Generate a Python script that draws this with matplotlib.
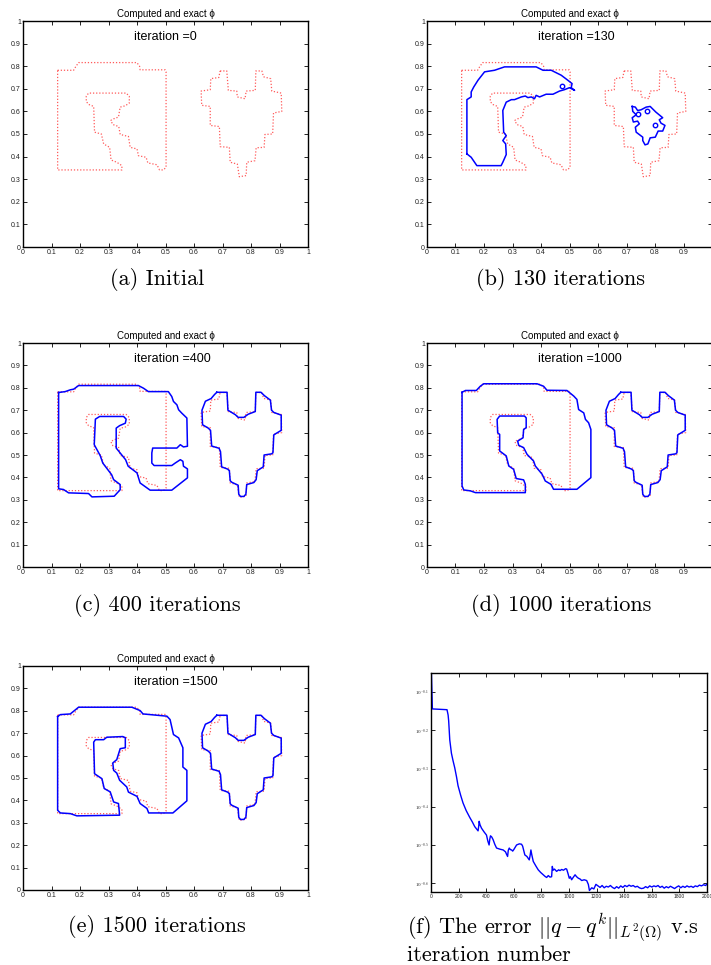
import numpy as np
import matplotlib
matplotlib.use('Agg')
import matplotlib.pyplot as plt
from matplotlib.ticker import FixedLocator, FixedFormatter, NullLocator

plt.rcParams['font.family'] = ['Liberation Sans', 'DejaVu Sans']
plt.rcParams['mathtext.fontset'] = 'cm'
plt.rcParams['axes.unicode_minus'] = False

# ---------------- data ----------------
# exact shape (red dotted): body and heart
exact_body_x = [0.1215, 0.1776, 0.1846, 0.195, 0.3995, 0.409, 0.411, 0.499, 0.502, 0.502, 0.493, 0.479,
                0.470, 0.438, 0.432, 0.405, 0.400, 0.376, 0.370, 0.341, 0.336, 0.315, 0.308, 0.318,
                0.335, 0.341, 0.359, 0.373, 0.373, 0.362, 0.230, 0.222, 0.222, 0.230, 0.248, 0.251,
                0.275, 0.283, 0.304, 0.309, 0.329, 0.347, 0.347, 0.1215]
exact_body_y = [0.782, 0.782, 0.797, 0.816, 0.816, 0.800, 0.784, 0.784, 0.775, 0.353, 0.341, 0.341,
                0.364, 0.372, 0.397, 0.404, 0.434, 0.441, 0.489, 0.498, 0.533, 0.542, 0.560, 0.567,
                0.575, 0.619, 0.625, 0.637, 0.667, 0.681, 0.681, 0.667, 0.644, 0.631, 0.622, 0.508,
                0.500, 0.456, 0.441, 0.385, 0.375, 0.360, 0.341, 0.341]
exact_heart_x = [0.6916, 0.715, 0.7205, 0.750, 0.752, 0.779, 0.783, 0.815, 0.817, 0.838, 0.844, 0.869,
                 0.873, 0.906, 0.908, 0.879, 0.876, 0.849, 0.846, 0.818, 0.814, 0.785, 0.783, 0.759,
                 0.752, 0.727, 0.724, 0.692, 0.689, 0.657, 0.657, 0.627, 0.625, 0.657, 0.659, 0.687]
exact_heart_y = [0.779, 0.779, 0.693, 0.690, 0.664, 0.656, 0.690, 0.693, 0.779, 0.779, 0.753, 0.745,
                 0.690, 0.681, 0.600, 0.593, 0.500, 0.498, 0.441, 0.439, 0.382, 0.375, 0.316, 0.311,
                 0.367, 0.375, 0.441, 0.444, 0.533, 0.538, 0.622, 0.627, 0.690, 0.696, 0.745, 0.750]

# computed shape, 130 iterations
b_body_x = [0.140, 0.155, 0.175, 0.260, 0.266, 0.278, 0.276, 0.266, 0.278, 0.269, 0.266, 0.278, 0.296,
            0.307, 0.331, 0.345, 0.354, 0.366, 0.377, 0.383, 0.395, 0.418, 0.442, 0.465, 0.482, 0.500,
            0.518, 0.506, 0.509, 0.494, 0.471, 0.436, 0.407, 0.383, 0.272, 0.237, 0.202, 0.179, 0.164,
            0.155, 0.155, 0.140]
b_body_y = [0.412, 0.397, 0.360, 0.360, 0.375, 0.409, 0.456, 0.471, 0.493, 0.508, 0.604, 0.641, 0.652,
            0.652, 0.664, 0.668, 0.661, 0.664, 0.656, 0.671, 0.664, 0.676, 0.676, 0.690, 0.696, 0.705,
            0.693, 0.705, 0.723, 0.738, 0.760, 0.782, 0.782, 0.797, 0.797, 0.782, 0.775, 0.738, 0.708,
            0.686, 0.664, 0.652]
b_blob_x = [0.720, 0.731, 0.739, 0.751, 0.769, 0.783, 0.803, 0.827, 0.815, 0.821, 0.835, 0.827, 0.811,
            0.801, 0.783, 0.775, 0.765, 0.757, 0.757, 0.734, 0.731, 0.745, 0.739, 0.724, 0.720, 0.734,
            0.722]
b_blob_y = [0.622, 0.619, 0.604, 0.607, 0.619, 0.622, 0.597, 0.572, 0.563, 0.548, 0.538, 0.513, 0.513,
            0.486, 0.483, 0.456, 0.452, 0.471, 0.486, 0.508, 0.530, 0.545, 0.557, 0.553, 0.572, 0.585,
            0.600]
b_loops_x = [0.473, 0.739, 0.771, 0.801]
b_loops_y = [0.711, 0.587, 0.601, 0.538]

# computed shape, 400 iterations
c_body_x = [0.125, 0.148, 0.166, 0.178, 0.195, 0.405, 0.423, 0.440, 0.510, 0.522, 0.528, 0.540, 0.546,
            0.557, 0.575, 0.577, 0.563, 0.552, 0.540, 0.455, 0.452, 0.452, 0.460, 0.522, 0.534, 0.552,
            0.561, 0.563, 0.577, 0.577, 0.522, 0.446, 0.411, 0.400, 0.369, 0.360, 0.327, 0.327, 0.339,
            0.359, 0.362, 0.353, 0.269, 0.254, 0.250, 0.271, 0.280, 0.311, 0.318, 0.341, 0.341, 0.320,
            0.242, 0.230, 0.160, 0.142, 0.125]
c_body_y = [0.779, 0.783, 0.791, 0.794, 0.810, 0.810, 0.798, 0.783, 0.783, 0.761, 0.739, 0.724, 0.702,
            0.687, 0.665, 0.539, 0.536, 0.546, 0.531, 0.531, 0.509, 0.464, 0.453, 0.453, 0.464, 0.479,
            0.472, 0.450, 0.438, 0.398, 0.343, 0.343, 0.375, 0.420, 0.450, 0.479, 0.531, 0.620, 0.631,
            0.642, 0.660, 0.672, 0.672, 0.660, 0.546, 0.497, 0.464, 0.412, 0.390, 0.368, 0.345, 0.316,
            0.313, 0.328, 0.331, 0.346, 0.349]

# computed shape, 1000 iterations
d_body_x = [0.123, 0.135, 0.173, 0.187, 0.199, 0.386, 0.409, 0.421, 0.491, 0.515, 0.526, 0.532, 0.550,
            0.556, 0.567, 0.575, 0.575, 0.526, 0.444, 0.435, 0.415, 0.404, 0.380, 0.374, 0.351, 0.339,
            0.322, 0.318, 0.337, 0.339, 0.348, 0.348, 0.342, 0.255, 0.246, 0.248, 0.255, 0.255, 0.278,
            0.287, 0.304, 0.313, 0.339, 0.345, 0.345, 0.170, 0.152, 0.129, 0.123]
d_body_y = [0.780, 0.788, 0.788, 0.807, 0.818, 0.818, 0.807, 0.789, 0.788, 0.763, 0.748, 0.703, 0.688,
            0.659, 0.644, 0.614, 0.399, 0.347, 0.347, 0.369, 0.384, 0.414, 0.451, 0.473, 0.503, 0.533,
            0.543, 0.562, 0.577, 0.614, 0.622, 0.666, 0.674, 0.674, 0.659, 0.599, 0.592, 0.518, 0.496,
            0.451, 0.436, 0.395, 0.389, 0.369, 0.332, 0.332, 0.340, 0.344, 0.362]

# computed shape, 1500 iterations
e_body_x = [0.1215, 0.131, 0.166, 0.195, 0.382, 0.411, 0.421, 0.505, 0.516, 0.528, 0.546, 0.561, 0.561,
            0.575, 0.575, 0.526, 0.441, 0.435, 0.411, 0.400, 0.370, 0.364, 0.339, 0.329, 0.318, 0.315,
            0.329, 0.341, 0.359, 0.359, 0.350, 0.294, 0.283, 0.254, 0.248, 0.251, 0.277, 0.285, 0.306,
            0.318, 0.335, 0.339, 0.189, 0.166, 0.131, 0.1215]
e_body_y = [0.774, 0.783, 0.786, 0.816, 0.816, 0.801, 0.786, 0.776, 0.761, 0.694, 0.679, 0.635, 0.549,
            0.534, 0.398, 0.344, 0.344, 0.364, 0.386, 0.418, 0.437, 0.460, 0.490, 0.522, 0.534, 0.567,
            0.582, 0.631, 0.635, 0.680, 0.685, 0.682, 0.671, 0.671, 0.660, 0.519, 0.497, 0.453, 0.438,
            0.393, 0.386, 0.334, 0.331, 0.341, 0.344, 0.356]

# converged heart (computed)
fit_heart_x = [0.680, 0.716, 0.719, 0.745, 0.755, 0.775, 0.790, 0.815, 0.817, 0.835, 0.847, 0.868, 0.872,
               0.880, 0.906, 0.906, 0.880, 0.877, 0.872, 0.846, 0.843, 0.822, 0.818, 0.810, 0.785, 0.782,
               0.775, 0.763, 0.757, 0.755, 0.733, 0.727, 0.724, 0.718, 0.697, 0.693, 0.688, 0.662, 0.658,
               0.650, 0.630, 0.628, 0.640, 0.660, 0.672]
fit_heart_y = [0.780, 0.780, 0.700, 0.680, 0.668, 0.668, 0.682, 0.694, 0.780, 0.780, 0.765, 0.745, 0.700,
               0.690, 0.678, 0.610, 0.590, 0.510, 0.505, 0.500, 0.447, 0.430, 0.390, 0.377, 0.368, 0.325,
               0.315, 0.315, 0.325, 0.365, 0.378, 0.385, 0.430, 0.437, 0.447, 0.515, 0.530, 0.540, 0.610,
               0.620, 0.635, 0.700, 0.740, 0.752, 0.770]

# error history (log10 of ||q - q^k||)
err_iter = [0, 3, 10, 60, 116, 124, 128, 136, 148, 160, 172, 185, 196, 215, 232, 255, 281, 300, 317, 330,
            341, 346, 349, 355, 366, 385, 402, 412, 421, 426, 431, 440, 450, 462, 475, 500, 523, 540, 547,
            555, 560, 567, 575, 584, 592, 600, 610, 620, 640, 656, 664, 668, 674, 680, 695, 712, 718, 724,
            730, 741, 760, 777, 795, 814, 826, 838, 850, 862, 874, 879, 885, 895, 910, 925, 935, 947, 960,
            975, 983, 993, 1002, 1010, 1019, 1030, 1044, 1055, 1068, 1080, 1092, 1110, 1128, 1140, 1148,
            1165, 1180, 1195, 1210, 1225, 1240, 1255, 1270, 1285, 1300, 1315, 1330, 1345, 1360, 1375, 1390,
            1405, 1420, 1435, 1450, 1465, 1480, 1495, 1510, 1525, 1540, 1555, 1570, 1585, 1600, 1615, 1630,
            1645, 1660, 1675, 1690, 1705, 1720, 1735, 1750, 1765, 1780, 1795, 1810, 1825, 1840, 1855, 1870,
            1885, 1900, 1915, 1930, 1945, 1960, 1975, 1990, 2000]
err_log = [0.0, -0.05, -0.144, -0.145, -0.146, -0.16, -0.175, -0.225, -0.26, -0.28, -0.298, -0.322, -0.345,
           -0.37, -0.39, -0.41, -0.428, -0.44, -0.452, -0.458, -0.463, -0.45, -0.438, -0.447, -0.456, -0.466,
           -0.474, -0.49, -0.50, -0.485, -0.476, -0.479, -0.486, -0.498, -0.508, -0.511, -0.513, -0.518,
           -0.524, -0.530, -0.514, -0.508, -0.512, -0.513, -0.516, -0.512, -0.506, -0.50, -0.497, -0.498,
           -0.503, -0.509, -0.518, -0.526, -0.53, -0.539, -0.528, -0.513, -0.525, -0.543, -0.555, -0.565,
           -0.572, -0.578, -0.582, -0.585, -0.580, -0.584, -0.583, -0.556, -0.566, -0.563, -0.569, -0.565,
           -0.567, -0.564, -0.566, -0.562, -0.563, -0.575, -0.587, -0.583, -0.591, -0.585, -0.578, -0.583,
           -0.587, -0.589, -0.593, -0.591, -0.593, -0.603, -0.619,
           -0.612, -0.615, -0.603, -0.607, -0.611, -0.606, -0.612, -0.608, -0.610, -0.606, -0.611, -0.614,
           -0.609, -0.613, -0.607, -0.611, -0.606, -0.609, -0.605, -0.608, -0.606, -0.610, -0.608, -0.612,
           -0.614, -0.613, -0.609, -0.612, -0.607, -0.610, -0.607, -0.609, -0.606, -0.611, -0.608, -0.613,
           -0.609, -0.612, -0.608, -0.611, -0.614, -0.610, -0.607, -0.612, -0.608, -0.611, -0.607, -0.610,
           -0.608, -0.611, -0.607, -0.609, -0.605, -0.607, -0.604, -0.606, -0.602]

unit_ticks = [0, 0.1, 0.2, 0.3, 0.4, 0.5, 0.6, 0.7, 0.8, 0.9, 1.0]
unit_labels = ['0', '0.1', '0.2', '0.3', '0.4', '0.5', '0.6', '0.7', '0.8', '0.9', '1']
err_xticks = [0, 200, 400, 600, 800, 1000, 1200, 1400, 1600, 1800, 2000]
err_ylog_ticks = [-0.6, -0.5, -0.4, -0.3, -0.2, -0.1]
err_ylabels = [r'$10^{-0.6}$', r'$10^{-0.5}$', r'$10^{-0.4}$', r'$10^{-0.3}$', r'$10^{-0.2}$', r'$10^{-0.1}$']

captions = ['(a) Initial', '(b) 130 iterations', '(c) 400 iterations', '(d) 1000 iterations',
            '(e) 1500 iterations']
iteration_labels = ['iteration =0', 'iteration =130', 'iteration =400', 'iteration =1000', 'iteration =1500']

# ---------------- figure ----------------
W, H = 711, 965
fig = plt.figure(figsize=(W / 100, H / 100), dpi=100)


def add_ax(l, t, r, b):
    return fig.add_axes([l / W, 1 - b / H, (r - l) / W, (b - t) / H])


BLUE = '#0000ff'
RED = '#ff5a5a'
TICKC = '#222222'


def style(ax):
    for s in ax.spines.values():
        s.set_linewidth(1.0)
        s.set_color('black')
    ax.tick_params(direction='in', length=3, width=0.6, top=True, right=True,
                   labelsize=5, pad=1.5, colors='black', labelcolor=TICKC)


def closed(x, y):
    return list(x) + [x[0]], list(y) + [y[0]]


def shape_panel(box, idx, computed, clip_right=False):
    ax = add_ax(*box)
    style(ax)
    ax.set_xlim(0, 1)
    ax.set_ylim(0, 1)
    xl = list(unit_labels)
    if clip_right:
        xl[-1] = ''
    ax.xaxis.set_major_locator(FixedLocator(unit_ticks))
    ax.xaxis.set_major_formatter(FixedFormatter(xl))
    ax.yaxis.set_major_locator(FixedLocator(unit_ticks))
    ax.yaxis.set_major_formatter(FixedFormatter(unit_labels))
    for (x, y) in [(exact_body_x, exact_body_y), (exact_heart_x, exact_heart_y)]:
        cx, cy = closed(x, y)
        ax.plot(cx, cy, linestyle=(0, (1, 1.5)), color=RED, lw=0.9, zorder=2)
    for (x, y) in computed:
        cx, cy = closed(x, y)
        ax.plot(cx, cy, color=BLUE, lw=1.1, zorder=3)
    ax.set_title('Computed and exact ϕ', fontsize=7, pad=3)
    ax.text(0.39, 0.93, iteration_labels[idx], fontsize=9, ha='left', va='center')
    return ax


row_boxes = [(23, 21, 308, 247), (427, 21, 712, 247),
             (23, 343, 308, 567), (427, 343, 712, 567),
             (23, 666, 308, 890)]

shape_panel(row_boxes[0], 0, [])
axb = shape_panel(row_boxes[1], 1, [(b_body_x, b_body_y), (b_blob_x, b_blob_y)], clip_right=True)
axb.plot(b_loops_x, b_loops_y, linestyle='none', marker='o', markersize=3.2,
         markerfacecolor='none', markeredgecolor=BLUE, markeredgewidth=1.0, zorder=3)
shape_panel(row_boxes[2], 2, [(c_body_x, c_body_y), (fit_heart_x, fit_heart_y)])
shape_panel(row_boxes[3], 3, [(d_body_x, d_body_y), (fit_heart_x, fit_heart_y)], clip_right=True)
shape_panel(row_boxes[4], 4, [(e_body_x, e_body_y), (fit_heart_x, fit_heart_y)])

# error panel
axf = add_ax(431, 673, 707, 892)
style(axf)
axf.tick_params(labelsize=3.6)
axf.set_yscale('log')
axf.plot(err_iter, 10 ** np.array(err_log), color=BLUE, lw=1.0)
axf.set_xlim(0, 2000)
axf.set_ylim(10 ** -0.623, 10 ** -0.05)
axf.xaxis.set_major_locator(FixedLocator(err_xticks))
axf.xaxis.set_major_formatter(FixedFormatter([str(v) for v in err_xticks]))
axf.yaxis.set_major_locator(FixedLocator([10 ** v for v in err_ylog_ticks]))
axf.yaxis.set_major_formatter(FixedFormatter(err_ylabels))
axf.yaxis.set_minor_locator(NullLocator())

# captions
cap_font = dict(family='cmr10', fontsize=16)
cap_pos = [(157, 285), (561, 285), (157, 611), (561, 611), (157, 932)]
for (px, py), txt in zip(cap_pos, captions):
    fig.text(px / W, 1 - py / H, txt, ha='center', va='baseline', **cap_font)
fig.text(407 / W, 1 - 933 / H, r'(f) The error $||q-q^k||_{L^2(\Omega)}$ v.s',
         ha='left', va='baseline', **cap_font)
fig.text(407 / W, 1 - 961 / H, 'iteration number', ha='left', va='baseline', **cap_font)

fig.savefig('out.png', dpi=100)
